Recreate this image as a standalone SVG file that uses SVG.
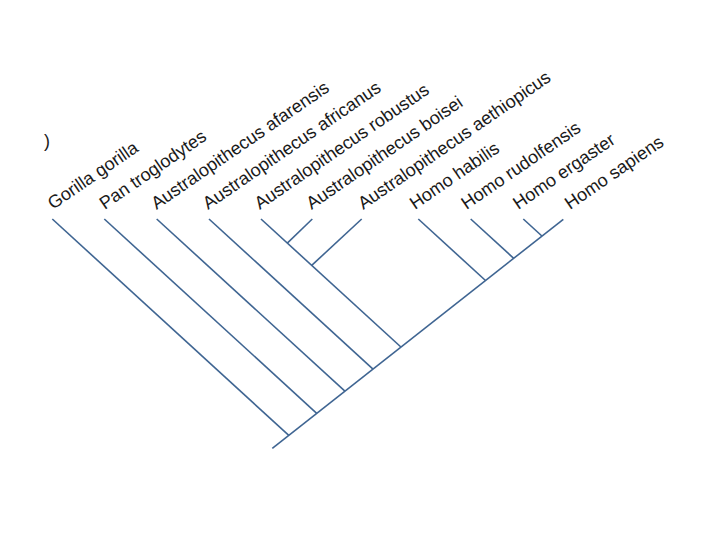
<svg xmlns="http://www.w3.org/2000/svg" width="720" height="540" viewBox="0 0 720 540">
<style>
.e{stroke:#3f6592;stroke-width:1.6;fill:none;stroke-linecap:butt}
.t{font-family:"Liberation Sans",Arial,sans-serif;font-size:18px;fill:#1a1a1a}
</style>
<rect width="720" height="540" fill="#ffffff"/>
<text class="t" x="44" y="147" font-size="15">)</text>
<g id="connectors">
<line class="e" x1="272.3" y1="448.3" x2="563.3" y2="219.3"/>
<line class="e" x1="52.3" y1="219" x2="288.8" y2="435.4"/>
<line class="e" x1="104.3" y1="219" x2="316.7" y2="413.3"/>
<line class="e" x1="156.7" y1="219" x2="344.9" y2="391.2"/>
<line class="e" x1="209" y1="219" x2="373" y2="369.1"/>
<line class="e" x1="261" y1="219" x2="400.9" y2="347"/>
<line class="e" x1="312.3" y1="219" x2="287.3" y2="243.1"/>
<line class="e" x1="361.7" y1="219" x2="311.7" y2="265.4"/>
<line class="e" x1="418.3" y1="219" x2="485.5" y2="280.5"/>
<line class="e" x1="470.7" y1="219" x2="513.7" y2="258.3"/>
<line class="e" x1="523.3" y1="219" x2="541.9" y2="236"/>
</g>
<g id="n1"><text class="t" transform="translate(53,210) rotate(-34.5)">Gorilla gorilla</text></g>
<g id="n2"><text class="t" transform="translate(104.7,210) rotate(-34.5)">Pan troglodytes</text></g>
<g id="n3"><text class="t" transform="translate(156.4,210) rotate(-34.5)">Australopithecus afarensis</text></g>
<g id="n4"><text class="t" transform="translate(208.1,210) rotate(-34.5)">Australopithecus africanus</text></g>
<g id="n5"><text class="t" transform="translate(259.8,210) rotate(-34.5)">Australopithecus robustus</text></g>
<g id="n6"><text class="t" transform="translate(311.5,210) rotate(-34.5)">Australopithecus boisei</text></g>
<g id="n7"><text class="t" transform="translate(363.2,210) rotate(-34.5)">Australopithecus aethiopicus</text></g>
<g id="n8"><text class="t" transform="translate(414.9,210) rotate(-34.5)">Homo habilis</text></g>
<g id="n9"><text class="t" transform="translate(466.6,210) rotate(-34.5)">Homo rudolfensis</text></g>
<g id="n10"><text class="t" transform="translate(518.3,210) rotate(-34.5)">Homo ergaster</text></g>
<g id="n11"><text class="t" transform="translate(570,210) rotate(-34.5)">Homo sapiens</text></g>
</svg>
